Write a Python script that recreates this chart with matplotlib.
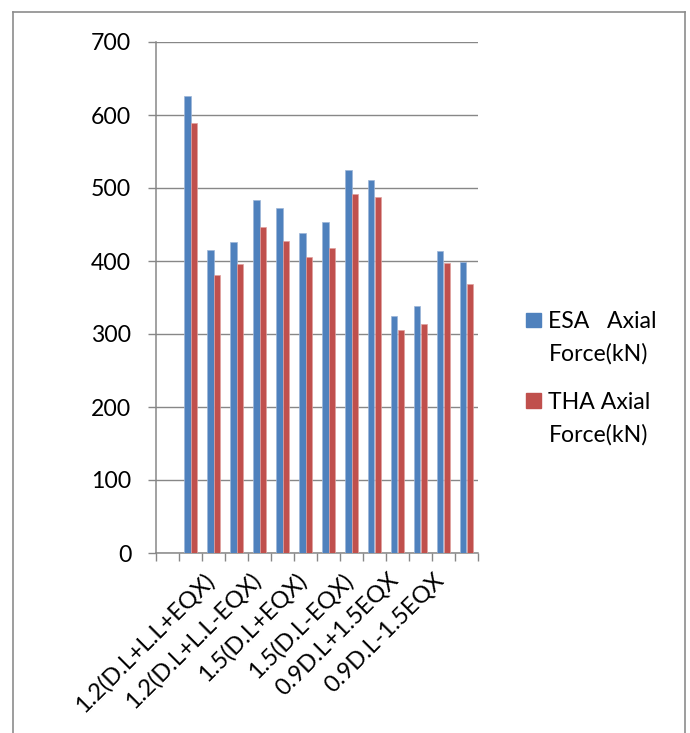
import numpy as np
import matplotlib
matplotlib.use("Agg")
import matplotlib.pyplot as plt
from matplotlib import transforms
from matplotlib.patches import Rectangle
from matplotlib.lines import Line2D

plt.rcParams['font.family'] = ['Lato', 'DejaVu Sans']

# 14 category slots; the first is empty, labels shown on every other slot
tick_labels = ["", "", "1.2(D.L+L.L+EQX)", "", "1.2(D.L+L.L-EQX)", "",
               "1.5(D.L+EQX)", "", "1.5(D.L-EQX)", "", "0.9D.L+1.5EQX", "",
               "0.9D.L-1.5EQX", ""]
esa = [np.nan, 626, 415, 426, 484, 472, 439, 454, 525, 511, 324, 339, 414, 399]
tha = [np.nan, 589, 381, 396, 446, 428, 406, 418, 492, 488, 306, 314, 397, 368]
series_names = ["ESA   Axial\nForce(kN)", "THA Axial\nForce(kN)"]
colors = ["#4F81BD", "#C0504D"]
yticks = [0, 100, 200, 300, 400, 500, 600, 700]

W, H = 690, 733
fig = plt.figure(figsize=(W / 100, H / 100), dpi=100)
ax = fig.add_axes([156 / W, 1 - 553 / H, (478 - 156) / W, (553 - 42) / H])

x = np.arange(len(tick_labels))
bw = 0.28
ax.bar(x - bw / 2, esa, width=bw, color=colors[0], edgecolor="#9db5d8", linewidth=0.5, zorder=3)
ax.bar(x + bw / 2, tha, width=bw, color=colors[1], edgecolor="#e0a09e", linewidth=0.5, zorder=3)

ax.set_xlim(-0.5, len(tick_labels) - 0.5)
ax.set_ylim(0, 700)

grey = "#878787"
ax.set_yticks(yticks)
ax.set_yticklabels([str(v) for v in yticks], fontsize=16.6)
ax.yaxis.grid(True, color=grey, linewidth=1.0, zorder=0)
ax.set_axisbelow(True)
ax.tick_params(axis='y', length=5.8, width=1.0, color=grey, pad=12)

ax.set_xticks(np.arange(len(tick_labels) + 1) - 0.5)
ax.set_xticklabels([])
ax.tick_params(axis='x', length=5.8, width=1.0, color=grey)

for s in ['top', 'right']:
    ax.spines[s].set_visible(False)
for s in ['left', 'bottom']:
    ax.spines[s].set_color(grey)
    ax.spines[s].set_linewidth(1.1)

off = transforms.offset_copy(ax.get_xaxis_transform(), fig=fig, x=-10, y=-16, units='dots')
for i, lab in enumerate(tick_labels):
    if lab:
        ax.text(i, 0, lab, transform=off, rotation=45, ha='right', va='top',
                rotation_mode='anchor', fontsize=17, color='black')

# legend drawn in figure pixel coordinates
def fy(y):
    return 1 - y / H

sq = [(312.7, 327.7, 360.7), (393.3, 409.3, 441.7)]
for (top, b1, b2), name, c in zip(sq, series_names, colors):
    fig.patches.append(Rectangle((526 / W, fy(top + 14.6)), 14.6 / W, 14.6 / H,
                                 transform=fig.transFigure, color=c))
    l1, l2 = name.split("\n")
    fig.text(548.5 / W, fy(b1), l1, fontsize=16.6, va='baseline', ha='left')
    fig.text(548.5 / W, fy(b2), l2, fontsize=16.6, va='baseline', ha='left')

# outer chart border (left, top, right)
bc = "#8c8c8c"
fig.lines.append(Line2D([13 / W, 13 / W], [0, fy(12)], transform=fig.transFigure, color=bc, lw=1.2))
fig.lines.append(Line2D([13 / W, 685 / W], [fy(12), fy(12)], transform=fig.transFigure, color=bc, lw=1.2))
fig.lines.append(Line2D([685 / W, 685 / W], [0, fy(12)], transform=fig.transFigure, color=bc, lw=1.2))

fig.savefig("out.png", dpi=100)
